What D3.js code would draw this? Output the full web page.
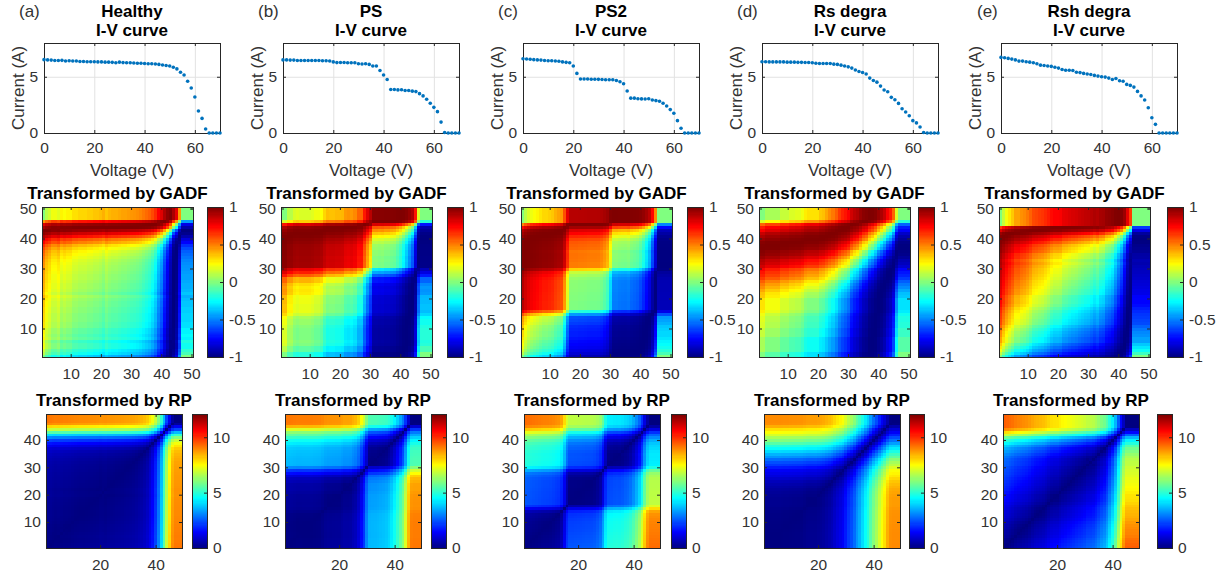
<!DOCTYPE html>
<html>
<head>
<meta charset="utf-8">
<title>I-V curves, GADF and RP</title>
<script src="https://cdn.jsdelivr.net/npm/d3@7"></script>
<style>
    html, body { margin: 0; padding: 0; background: #fff; }
    svg { display: block; }
    text { font-family: "Liberation Sans", Arial, sans-serif; fill: #262626; }
    .tick text { font-size: 15.5px; fill: #333; }
    .tick line { stroke: #262626; }
    .title { font-size: 17px; font-weight: bold; fill: #000; text-anchor: middle; }
    .label { font-size: 17px; fill: #333; text-anchor: middle; }
    .letter { font-size: 17px; fill: #333; }
    .frame { fill: none; stroke: #262626; stroke-width: 1; }
    .grid line { stroke: #e2e2e2; }
</style>
</head>
<body>
<div id="chart"></div>
<script>
const panelLetters = ['(a)', '(b)', '(c)', '(d)', '(e)'];
const panelNames = ['Healthy', 'PS', 'PS2', 'Rs degra', 'Rsh degra'];

const voltage = [0, 1.43, 2.86, 4.29, 5.71, 7.14, 8.57, 10, 11.43, 12.86, 14.29, 15.71, 17.14, 18.57, 20, 21.43, 22.86,
    24.29, 25.71, 27.14, 28.57, 30, 31.43, 32.86, 34.29, 35.71, 37.14, 38.57, 40, 41.43, 42.86, 44.29, 45.71, 47.14,
    48.57, 50, 51.43, 52.86, 54.29, 55.71, 57.14, 58.57, 60, 61.43, 62.86, 64.29, 65.71, 67.14, 68.57, 70];

const healthy = [6.52, 6.5, 6.48, 6.44, 6.44, 6.46, 6.4, 6.42, 6.4, 6.4, 6.36, 6.36, 6.34, 6.34, 6.34, 6.32, 6.32,
    6.3, 6.3, 6.28, 6.24, 6.3, 6.26, 6.24, 6.24, 6.22, 6.2, 6.2, 6.18, 6.16, 6.15, 6.13, 6.1, 6.05,
    6.0, 5.95, 5.85, 5.7, 5.4, 5.15, 4.6, 4.0, 3.2, 1.95, 1.3, 0.35, 0, 0, 0, 0];
const ps = [6.5, 6.5, 6.48, 6.48, 6.45, 6.44, 6.45, 6.45, 6.45, 6.45, 6.44, 6.42, 6.42, 6.4, 6.32, 6.26, 6.27,
    6.27, 6.25, 6.25, 6.24, 6.15, 6.13, 6.15, 6.1, 5.95, 5.95, 5.55, 5.15, 4.75, 3.87, 3.87, 3.83, 3.85,
    3.78, 3.78, 3.72, 3.68, 3.5, 3.3, 3.0, 2.65, 2.28, 1.9, 0.97, 0.05, 0, 0, 0, 0];
const ps2 = [6.6, 6.58, 6.55, 6.52, 6.5, 6.48, 6.45, 6.42, 6.42, 6.4, 6.38, 6.32, 6.28, 6.25, 5.95, 5.3, 4.8,
    4.8, 4.8, 4.78, 4.78, 4.77, 4.75, 4.74, 4.74, 4.73, 4.67, 4.55, 4.38, 3.73, 3.1, 3.1, 3.05, 3.03,
    3.02, 3.05, 2.93, 2.88, 2.82, 2.65, 2.4, 2.08, 1.75, 1.1, 0.42, 0, 0, 0, 0, 0];
const rsDegra = [6.33, 6.33, 6.32, 6.32, 6.32, 6.32, 6.32, 6.3, 6.3, 6.3, 6.28, 6.28, 6.27, 6.27, 6.25, 6.2, 6.18,
    6.18, 6.18, 6.18, 6.12, 6.1, 6.03, 5.95, 5.88, 5.77, 5.6, 5.47, 5.38, 5.24, 4.88, 4.67, 4.52, 4.17,
    3.82, 3.67, 3.17, 2.96, 2.63, 2.16, 1.86, 1.54, 1.1, 0.9, 0.53, 0.05, 0, 0, 0, 0];
const rshDegra = [6.72, 6.69, 6.63, 6.57, 6.5, 6.39, 6.39, 6.33, 6.3, 6.24, 6.15, 6.03, 6.0, 5.95, 5.92, 5.85, 5.77,
    5.65, 5.58, 5.58, 5.55, 5.4, 5.37, 5.3, 5.24, 5.2, 5.12, 5.06, 5.0, 4.97, 4.88, 4.76, 4.85, 4.65,
    4.6, 4.32, 4.23, 4.08, 3.7, 3.3, 2.93, 2.25, 1.36, 0.77, 0, 0, 0, 0, 0, 0];
const currents = [healthy, ps, ps2, rsDegra, rshDegra];

const ivXTicks = [0, 20, 40, 60];
const ivYTicks = [0, 5];
const gadfTicks = [10, 20, 30, 40, 50];
const gadfBarTicks = [-1, -0.5, 0, 0.5, 1];
const rpXTicks = [20, 40];
const rpYTicks = [10, 20, 30, 40];
const rpBarTicks = [0, 5, 10];

// pixel layout of each row, measured on the reference
const ivLeft = [44, 283, 523, 762, 1001];
const gadfLeft = [42, 281, 521, 759, 999];
const gadfBarLeft = [207, 447, 687, 918, 1167];
const rpLeft = [46, 285, 524, 764, 1003];
const rpBarLeft = [192, 431, 671, 909, 1157];
const letterLeft = [19, 258, 498, 737, 977];
const ivBox = { top: 43, bottom: 133, width: 176 };
const gadfBox = { top: 207, bottom: 357, width: 151, barWidth: 16 };
const rpBox = { top: 414, bottom: 548, width: 136, barWidth: 15 };

const svg = d3.select('#chart').append('svg').attr('width', 1219).attr('height', 575);

// MATLAB jet
const clamp01 = v => Math.max(0, Math.min(1, v));
const jet = t => `rgb(${Math.round(255 * clamp01(1.5 - Math.abs(4 * t - 3)))},${Math.round(255 * clamp01(1.5 - Math.abs(4 * t - 2)))},${Math.round(255 * clamp01(1.5 - Math.abs(4 * t - 1)))})`;

// the two heatmap rows are the definitions of GADF and RP applied to the currents above
function gadf(series) {
    const lo = d3.min(series), hi = d3.max(series);
    const phi = series.map(v => Math.acos(clamp01((v - lo) / (hi - lo)) * 2 - 1));
    return phi.map(a => phi.map(b => Math.sin(a - b)));
}

function rp(series) {
    const points = series.slice(0, -1).map((v, i) => [v, series[i + 1]]);
    return points.map(a => points.map(b => Math.hypot(a[0] - b[0], a[1] - b[1])));
}

function addAxes(g, x, y, xTicks, yTicks, w, h, padX, padY) {
    g.append('g').attr('transform', `translate(0,${h})`)
        .call(d3.axisBottom(x).tickValues(xTicks).tickSize(-3).tickSizeOuter(0).tickPadding(padX).tickFormat(d3.format('d')))
        .call(a => a.select('.domain').remove());
    g.append('g')
        .call(d3.axisLeft(y).tickValues(yTicks).tickSize(-3).tickSizeOuter(0).tickPadding(padY).tickFormat(d3.format('d')))
        .call(a => a.select('.domain').remove());
    g.append('g')
        .call(d3.axisTop(x).tickValues(xTicks).tickSize(-3).tickSizeOuter(0).tickFormat(''))
        .call(a => a.select('.domain').remove());
    g.append('g').attr('transform', `translate(${w},0)`)
        .call(d3.axisRight(y).tickValues(yTicks).tickSize(-3).tickSizeOuter(0).tickFormat(''))
        .call(a => a.select('.domain').remove());
    g.append('rect').attr('class', 'frame').attr('x', 0.5).attr('y', 0.5).attr('width', w).attr('height', h);
}

function drawIV(k) {
    const h = ivBox.bottom - ivBox.top, w = ivBox.width;
    const g = svg.append('g').attr('transform', `translate(${ivLeft[k]},${ivBox.top})`);
    const x = d3.scaleLinear().domain([0, 70]).range([0, w]);
    const y = d3.scaleLinear().domain([0, 8]).range([h, 0]);

    g.append('g').attr('class', 'grid').attr('transform', `translate(0,${h})`)
        .call(d3.axisBottom(x).tickValues(ivXTicks).tickSize(-h).tickFormat(''))
        .call(a => a.select('.domain').remove());
    g.append('g').attr('class', 'grid')
        .call(d3.axisLeft(y).tickValues(ivYTicks).tickSize(-w).tickFormat(''))
        .call(a => a.select('.domain').remove());

    addAxes(g, x, y, ivXTicks, ivYTicks, w, h, 9, 6);

    g.selectAll('.dot').data(currents[k]).enter().append('circle')
        .attr('class', 'dot')
        .attr('cx', (d, i) => x(voltage[i]))
        .attr('cy', d => y(d))
        .attr('r', 1.8)
        .attr('fill', '#0072BD');

    g.append('text').attr('class', 'title').attr('x', w / 2).attr('y', -26).text(panelNames[k]);
    g.append('text').attr('class', 'title').attr('x', w / 2).attr('y', -7).text('I-V curve');
    g.append('text').attr('class', 'label').attr('x', w / 2).attr('y', 133).text('Voltage (V)');
    g.append('text').attr('class', 'label')
        .attr('transform', `translate(-20,${h / 2}) rotate(-90)`).text('Current (A)');
    svg.append('text').attr('class', 'letter').attr('x', letterLeft[k]).attr('y', 17).text(panelLetters[k]);
}

function drawHeat(left, box, matrix, color, xTicks, yTicks, title) {
    const n = matrix.length, w = box.width, h = box.bottom - box.top;
    const g = svg.append('g').attr('transform', `translate(${left},${box.top})`);
    const x = d3.scaleLinear().domain([0.5, n + 0.5]).range([0, w]);
    const y = d3.scaleLinear().domain([0.5, n + 0.5]).range([h, 0]);
    const cells = matrix.flatMap((row, r) => row.map((v, c) => ({ r: r + 1, c: c + 1, v })));

    g.append('g').selectAll('rect').data(cells).enter().append('rect')
        .attr('x', d => x(d.c - 0.5))
        .attr('y', d => y(d.r + 0.5))
        .attr('width', x(2) - x(1) + 0.5)
        .attr('height', y(1) - y(2) + 0.5)
        .attr('fill', d => color(d.v))
        .attr('shape-rendering', 'crispEdges');

    addAxes(g, x, y, xTicks, yTicks, w, h, 11, 5);
    g.append('text').attr('class', 'title').attr('x', w / 2).attr('y', -8).text(title);
}

function drawBar(left, box, color, ticks) {
    const h = box.bottom - box.top, w = box.barWidth;
    const [lo, hi] = color.domain();
    const g = svg.append('g').attr('transform', `translate(${left},${box.top})`);
    const y = d3.scaleLinear().domain([lo, hi]).range([h, 0]);
    const levels = d3.range(128).map(i => lo + (hi - lo) * (i + 0.5) / 128);

    g.append('g').selectAll('rect').data(levels).enter().append('rect')
        .attr('x', 0)
        .attr('y', d => y(d + (hi - lo) / 256))
        .attr('width', w)
        .attr('height', h / 128 + 0.6)
        .attr('fill', d => color(d))
        .attr('shape-rendering', 'crispEdges');

    g.append('g').attr('transform', `translate(${w},0)`)
        .call(d3.axisRight(y).tickValues(ticks).tickSize(-3).tickSizeOuter(0).tickPadding(6).tickFormat(d => String(d)))
        .call(a => a.select('.domain').remove());
    g.append('rect').attr('class', 'frame').attr('x', 0.5).attr('y', 0.5).attr('width', w).attr('height', h);
}

const gadfColor = d3.scaleSequential(jet).domain([-1, 1]);
const rpColor = d3.scaleSequential(jet).domain([0, 12.1]);

currents.forEach((series, k) => {
    drawIV(k);
    drawHeat(gadfLeft[k], gadfBox, gadf(series), gadfColor, gadfTicks, gadfTicks, 'Transformed by GADF');
    drawBar(gadfBarLeft[k], gadfBox, gadfColor, gadfBarTicks);
    drawHeat(rpLeft[k], rpBox, rp(series), rpColor, rpXTicks, rpYTicks, 'Transformed by RP');
    drawBar(rpBarLeft[k], rpBox, rpColor, rpBarTicks);
});
</script>
</body>
</html>
